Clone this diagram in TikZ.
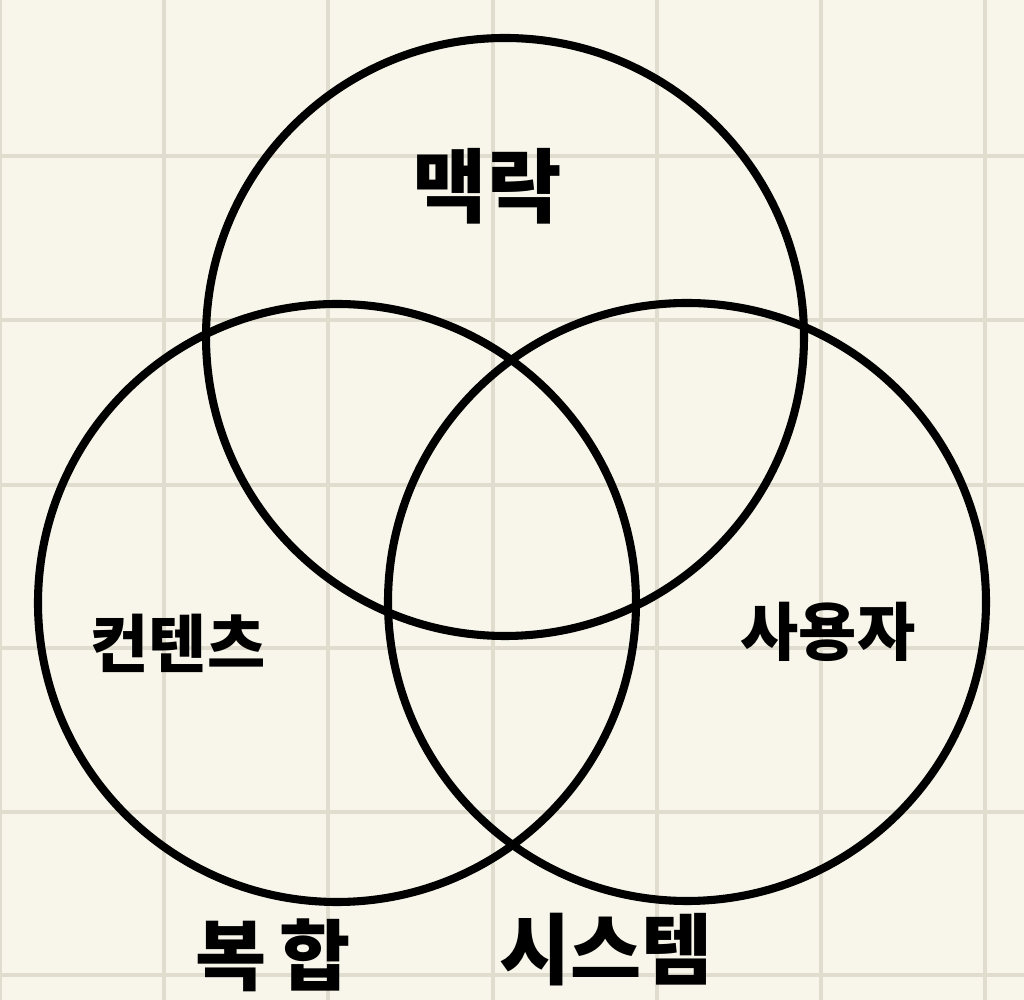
\documentclass[tikz,border=0pt]{standalone}
\usepackage{fontspec}
\newfontfamily\kr{Noto Sans CJK KR}
\usetikzlibrary{positioning}
\definecolor{paper}{RGB}{248,246,234}
\definecolor{gridgray}{RGB}{224,221,207}

\begin{document}
\begin{tikzpicture}[x=1cm,y=1cm, every node/.style={font=\kr}]
      % paper and grid
      \fill[paper] (0,0) rectangle (10.24,-10);
      \useasboundingbox (0,0) rectangle (10.24,-10);
      \foreach \gx in {0,1.64,3.28,4.93,6.57,8.21,9.85}
        \draw[gridgray,line width=1.1pt] (\gx,0) -- (\gx,-10);
      \foreach \gy in {1.56,3.20,4.85,6.48,8.12,9.75}
        \draw[gridgray,line width=1.1pt] (0,-\gy) -- (10.24,-\gy);
      % three sets
      \node[draw,circle,line width=2.3pt,minimum size=5.98cm,inner sep=0pt] (context) at (5.05,-3.37) {};
      \node[draw,circle,line width=2.3pt,minimum size=5.98cm,inner sep=0pt] (content) at (3.37,-6.03) {};
      \node[draw,circle,line width=2.3pt,minimum size=5.98cm,inner sep=0pt] (user) at (6.87,-6.02) {};
      % labels
      \node[font=\kr\bfseries\fontsize{23}{26}\selectfont] (contextlbl) at (4.87,-1.86) {맥락};
      \node[font=\kr\bfseries\fontsize{18}{22}\selectfont] (contentlbl) at (1.78,-6.43) {컨텐츠};
      \node[font=\kr\bfseries\fontsize{18}{22}\selectfont] (userlbl) at (8.28,-6.32) {사용자};
      \node[font=\kr\bfseries\fontsize{22}{26}\selectfont] (complexlbl) at (2.73,-9.55) {복\,합};
      \node[font=\kr\bfseries\fontsize{22}{26}\selectfont] (systemlbl) at (6.06,-9.5) {시스템};
    \end{tikzpicture}
\end{document}
